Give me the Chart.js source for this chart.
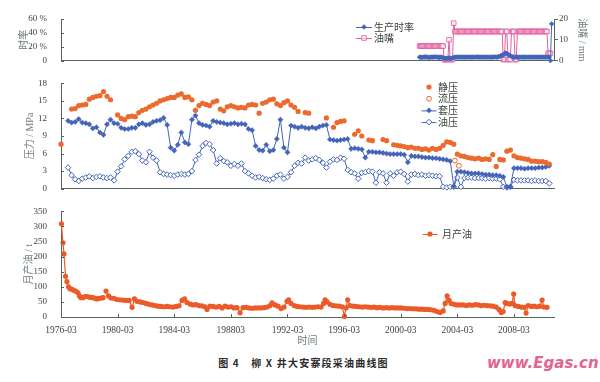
<!DOCTYPE html>
<html lang="zh">
<head>
<meta charset="utf-8">
<title>柳X井大安寨段采油曲线图</title>
<script src="https://cdn.jsdelivr.net/npm/chart.js@4.4.1/dist/chart.umd.min.js"></script>
<style>
html,body{margin:0;padding:0;background:#fff;}
body{width:600px;height:382px;position:relative;overflow:hidden;}
canvas{position:absolute;left:0;}
#c1{top:0;} #c2{top:72px;} #c3{top:200px;}
#caption{position:absolute;left:0;width:607px;top:356px;text-align:center;font:bold 10px "Noto Sans CJK SC",sans-serif;color:#2b2b2b;letter-spacing:1.2px;line-height:14px;}
#mark{position:absolute;left:487px;top:354px;font:italic bold 15px "DejaVu Sans",sans-serif;color:#e4638f;line-height:18px;}
</style>
</head>
<body>
<canvas id="c1" width="600" height="72"></canvas>
<canvas id="c2" width="600" height="128"></canvas>
<canvas id="c3" width="600" height="150"></canvas>
<div id="caption">图 4　柳 X 井大安寨段采油曲线图</div>
<div id="mark">www.Egas.cn</div>
<script>
// ---------- time axis ----------
const X_MIN = 1976.17, X_MAX = 2011.0;
const tickYears  = [1976.17,1980.17,1984.17,1988.17,1992.17,1996.17,2000.17,2004.17,2008.17];
const tickLabels = ['1976-03','1980-03','1984-03','198803','1992-03','1996-03','2000-03','2004-03','2008-03'];

// ---------- top panel (monthly from 2001.5) ----------
const topStart = 2001.5, topStep = 1/12;
const rateValues = [
 5,5,4.5,5,5,5.5,5,5,4.5,5,5,5,5,5.5,5,5,5,4.5,5,5,4,
 3,3,3.5,3,4,3,3,3.5,
 4.5,5,5,5,5,5,5,5,5,5, 5,5,5,5,5,5,5,5,5,5, 5.5,5,5,5,5,5,5,5,5,5, 5,5,5,5,5,5.5,5,5,6,6, 7,8,
 8,10,11,10,9,8,7,6,5.5,
 5,5,5,5,5,5,5,5,5,5, 5,5,5,5,5,5,5,5,5,5, 5,5,5,5,5,5,5,5,5,5, 5,
 0,53];
const nozzleValues = [
 7,7,7,7,7,7,7,7,7,7,7,7,7,7,7,7,7,7,7,7,7,
 0.5,0.5,0.5,0.5, 10, 0.5,0.5,0.5, 18,
 14,14,14,14,14,14,14,14,14,14, 14,14,14,14,14,14,14,14,14,14, 14,14,14,14,14,14,14,14,14,14, 14,14,14,14,14,14,14,14,14,14, 14,
 0.5,0.5, 14,14, 0.5,0.5,0.5, 14,14,14, 0.5,0.5,
 14,14,14,14,14,14,14,14,14,14, 14,14,14,14,14,14,14,14,14,14, 14,14,14,14,14,14,
 3.5,3.5,3.5];

// ---------- pressure panel (quarterly from 1976.17) ----------
const pStart = 1976.17, pStep = 0.25;
const staticValues = [
 7.6,null,null,13.6,13.7,14.2,14.3,14.4,15.3,15.6,
 15.8,15.9,16.6,15.8,15.2,null,12.6,12.0,11.8,12.3,
 12.4,12.3,13.0,13.4,13.6,14.0,14.3,14.6,15.0,15.2,
 15.4,15.6,15.6,16.0,16.2,15.6,15.7,15.2,13.4,14.2,
 14.6,14.4,14.2,14.8,15.0,13.6,13.3,14.0,14.2,14.0,
 13.8,13.9,13.8,14.3,14.4,14.3,12.9,14.6,14.8,15.2,
 15.3,14.5,14.2,14.7,15.0,14.3,13.9,13.2,null,13.0,
 12.9,null,null,null,null,12.1,null,10.5,11.3,11.5,
 11.6,null,null,9.3,9.9,9.0,null,8.3,8.2,null,
 null,8.4,8.2,null,7.5,7.4,7.3,7.2,7.0,7.1,
 6.9,6.9,6.7,6.8,6.6,6.9,6.7,6.9,7.4,8.0,
 7.9,7.6,5.9,5.6,5.5,5.3,5.2,5.1,5.2,5.0,
 5.1,5.0,5.8,3.8,5.0,4.9,6.4,6.6,5.6,5.3,
 5.2,5.1,5.0,4.7,4.7,4.6,4.6,4.5,4.2];
const flowYears  = [2004.0, 2004.28];
const flowValues = [4.8, 3.9];
const casingValues = [
 null,null,11.6,11.3,11.4,11.9,11.3,11.2,11.0,10.3,
 10.5,9.6,9.2,11.0,11.8,11.2,11.1,10.4,10.2,10.2,
 10.4,10.4,11.0,11.2,10.9,11.0,11.4,11.6,11.7,12.1,
 10.9,7.0,6.5,7.5,9.6,7.9,7.6,11.8,12.5,11.2,
 10.9,10.8,10.6,11.6,11.4,11.3,11.2,11.0,11.1,11.2,
 11.0,11.1,11.0,10.2,10.0,7.3,6.6,6.5,7.5,6.4,
 6.6,8.5,11.8,7.0,6.2,10.8,10.6,10.4,10.6,10.4,
 10.3,10.5,10.3,10.6,10.8,10.9,8.4,8.3,8.2,8.3,
 8.4,8.5,6.8,6.9,6.8,6.7,5.3,6.3,6.3,6.2,
 6.2,6.1,6.0,5.9,5.9,5.9,5.9,5.8,4.5,5.6,
 5.5,5.5,5.4,5.3,5.3,5.2,5.2,5.1,5.0,4.9,
 4.7,0.4,2.9,2.9,2.8,2.7,2.6,2.6,2.6,2.5,
 2.4,2.4,2.3,2.3,2.2,2.0,0.3,0.3,3.5,3.5,
 3.5,3.4,3.5,3.5,3.5,3.6,3.6,3.7,3.9];
const tubingValues = [
 null,null,3.6,2.3,1.6,1.3,1.7,1.9,2.1,1.8,
 2.0,2.1,1.9,1.8,1.9,1.4,2.9,3.8,5.0,5.6,
 6.3,6.4,5.9,4.8,4.5,6.3,5.3,4.8,2.8,2.5,
 2.4,2.3,2.2,2.4,2.5,2.4,2.5,3.0,4.9,5.8,
 7.3,7.8,7.6,6.6,4.3,5.2,4.7,4.5,3.9,4.2,
 3.9,4.3,3.0,2.6,2.2,1.9,2.0,1.8,1.6,1.5,
 1.7,2.2,2.4,1.7,2.0,2.8,3.9,4.4,4.3,5.3,
 4.8,5.0,5.2,4.9,4.4,3.6,4.6,5.0,4.9,5.3,
 5.1,3.2,2.8,2.6,1.7,2.7,2.8,3.0,2.9,1.0,
 2.8,2.6,1.0,2.6,2.2,2.8,2.9,2.5,1.2,2.4,
 2.5,2.3,2.4,2.2,2.3,2.2,2.1,2.1,0.3,0.2,
 0.3,0.3,1.9,0.3,1.8,1.9,1.9,1.8,1.8,1.8,
 1.7,1.8,1.7,1.7,1.6,0.3,0.2,0.3,1.5,1.4,
 1.4,1.4,1.4,1.3,1.4,1.3,1.3,1.3,0.9];

// ---------- monthly oil ----------
const oilYears = [
 1976.20,1976.31,1976.38,1976.49,1976.59,1976.70,1976.81,1976.95,1977.09,1977.23,
 1977.37,1977.48,1977.58,1977.72,1977.87,1978.01,1978.15,1978.29,1978.43,1978.57,
 1978.71,1978.86,1979.00,1979.14,1979.25,1979.35,1979.53,1979.70,1979.92,1980.13,
 1980.34,1980.55,1980.76,1980.98,1981.19,1981.36,1981.54,1981.75,1981.97,1982.18,
 1982.39,1982.60,1982.81,1983.03,1983.24,1983.45,1983.66,1983.87,1984.09,1984.30,
 1984.51,1984.72,1984.90,1985.07,1985.29,1985.50,1985.71,1985.92,1986.13,1986.35,
 1986.49,1986.70,1986.91,1987.12,1987.34,1987.55,1987.76,1987.97,1988.18,1988.40,
 1988.61,1988.82,1989.03,1989.24,1989.46,1989.67,1989.88,1990.09,1990.30,1990.52,
 1990.73,1990.94,1991.08,1991.29,1991.50,1991.72,1991.93,1992.14,1992.25,1992.42,
 1992.64,1992.85,1993.06,1993.27,1993.48,1993.70,1993.91,1994.12,1994.33,1994.54,
 1994.72,1994.83,1994.97,1995.18,1995.39,1995.60,1995.82,1996.03,1996.20,1996.31,
 1996.42,1996.59,1996.81,1997.02,1997.23,1997.44,1997.65,1997.87,1998.08,1998.29,
 1998.50,1998.71,1998.93,1999.14,1999.35,1999.56,1999.77,1999.99,2000.20,2000.41,
 2000.62,2000.83,2001.05,2001.26,2001.47,2001.68,2001.89,2002.11,2002.32,2002.53,
 2002.74,2002.95,2003.17,2003.31,2003.45,2003.59,2003.73,2003.94,2004.15,2004.37,
 2004.58,2004.79,2005.00,2005.21,2005.43,2005.64,2005.85,2006.06,2006.28,2006.49,
 2006.70,2006.91,2007.12,2007.27,2007.41,2007.55,2007.69,2007.90,2008.04,2008.15,
 2008.25,2008.47,2008.68,2008.89,2009.03,2009.17,2009.39,2009.60,2009.81,2010.02,
 2010.16,2010.30,2010.51];
const oilValues = [
 309,246,209,135,117,100,94,92,88,85,
 80,70,64,64,68,68,66,65,64,62,
 60,62,63,64,null,86,70,63,62,58,
 57,56,55,55,32,60,52,50,48,45,
 42,40,38,36,35,34,35,34,33,35,
 37,55,60,48,43,40,41,38,37,34,
 25,36,35,33,35,30,36,33,34,30,
 31,14,31,32,30,29,30,30,30,31,
 33,38,47,40,36,28,33,52,57,45,
 38,35,34,33,32,33,32,33,34,33,
 45,57,50,42,38,37,36,34,2,30,
 57,38,36,35,34,33,34,33,32,33,
 31,32,30,31,30,31,30,30,30,29,
 28,28,27,27,26,26,25,25,24,22,
 18,15,20,45,70,55,45,42,40,40,
 40,38,40,39,41,40,38,39,38,37,
 36,33,25,15,18,48,45,43,45,76,
 38,35,33,32,13,38,35,36,34,36,
 56,33,32];

// ---------- styles ----------
const AX = '#56655a', TXT = '#3a423a', TTL = '#6f7d70';
const ORANGE = '#ec6a2e', OIL = '#eb5a28', BLUE = '#4364b8', PINK = '#e35fa0';
const SERIF = '"Liberation Serif","Noto Sans CJK SC",serif';
const CJK = '"Noto Sans CJK SC","Liberation Serif",sans-serif';
Chart.defaults.font.family = SERIF;
Chart.defaults.font.size = 9;
Chart.defaults.color = TXT;

const gridSeries = (start, step, vals) => vals.map((v, i) => ({x: start + i * step, y: v}));
const pairSeries = (xs, ys) => xs.map((x, i) => ({x: x, y: ys[i]}));

function drawMarker(ctx, style, x, y, r, fill, stroke, lw) {
  ctx.beginPath();
  if (style === 'rectRot') { ctx.moveTo(x, y - r); ctx.lineTo(x + r, y); ctx.lineTo(x, y + r); ctx.lineTo(x - r, y); ctx.closePath(); }
  else if (style === 'rect') { const h = r * Math.SQRT1_2; ctx.rect(x - h, y - h, 2 * h, 2 * h); }
  else { ctx.arc(x, y, r, 0, Math.PI * 2); }
  if (fill) { ctx.fillStyle = fill; ctx.fill(); }
  if (lw > 0) { ctx.lineWidth = lw; ctx.strokeStyle = stroke; ctx.stroke(); }
}

const miniLegend = {
  id: 'miniLegend',
  afterDraw(chart, args, o) {
    if (!o || o.x === undefined) return;
    const ctx = chart.ctx;
    chart.data.datasets.forEach((ds, k) => {
      const y = o.y + k * o.dy, x = o.x;
      ctx.save();
      if (ds.showLine !== false) {
        ctx.strokeStyle = ds.borderColor; ctx.lineWidth = 1;
        ctx.beginPath(); ctx.moveTo(x - o.half, y + 0.5); ctx.lineTo(x + o.half, y + 0.5); ctx.stroke();
      }
      drawMarker(ctx, ds.pointStyle, x, y, ds.pointRadius, ds.pointBackgroundColor, ds.pointBorderColor, ds.pointBorderWidth);
      ctx.fillStyle = TXT; ctx.font = '10px ' + CJK; ctx.textBaseline = 'middle'; ctx.textAlign = 'left';
      ctx.fillText(ds.label, x + o.tx, y);
      ctx.restore();
    });
  }
};

const inTicks = {
  id: 'inTicks',
  afterDraw(chart, args, o) {
    const ctx = chart.ctx;
    ctx.save(); ctx.strokeStyle = AX; ctx.lineWidth = 1;
    (o.axes || []).forEach(id => {
      const s = chart.scales[id]; if (!s) return;
      s.ticks.forEach(t => {
        const p = Math.round(s.getPixelForValue(t.value)) + 0.5;
        ctx.beginPath();
        if (s.isHorizontal()) { ctx.moveTo(p, s.top); ctx.lineTo(p, s.top - 3); }
        else { ctx.moveTo(s.right, p); ctx.lineTo(s.right + 3, p); }
        ctx.stroke();
      });
    });
    ctx.restore();
  }
};

function xScale(showLabels, h, title) {
  return {
    type: 'linear', min: X_MIN, max: X_MAX,
    afterBuildTicks: s => { s.ticks = tickYears.map(v => ({value: v})); },
    ticks: {display: showLabels, autoSkip: false, maxRotation: 0, padding: 0, color: TXT,
            font: {family: SERIF, size: 9.5},
            callback: v => tickLabels[tickYears.indexOf(v)]},
    grid: {display: false},
    border: {display: true, color: AX, width: 1},
    title: title ? {display: true, text: title, color: TTL, font: {family: SERIF, size: 10}, padding: {top: 0, bottom: 3}} : {display: false},
    afterFit: s => { s.height = h; }
  };
}
function yLeft(min, max, step, title, tpad, cb) {
  return {
    position: 'left', min: min, max: max,
    ticks: {stepSize: step, padding: 6, color: TXT, font: {family: SERIF, size: 9}, callback: cb},
    grid: {display: false},
    border: {display: true, color: AX, width: 1},
    title: {display: true, text: title, color: TTL, font: {family: SERIF, size: 10}, padding: {top: tpad, bottom: 0}},
    afterFit: s => { s.width = 61; }
  };
}
const common = {responsive: false, animation: false, events: []};

// ---------- chart 1: 时率 / 油嘴 ----------
new Chart(document.getElementById('c1'), {
  type: 'line',
  data: {datasets: [
    {label: '生产时率', data: gridSeries(topStart, topStep, rateValues), yAxisID: 'y',
     borderColor: BLUE, borderWidth: 1, pointStyle: 'rectRot', pointRadius: 2.4,
     pointBackgroundColor: BLUE, pointBorderColor: BLUE, pointBorderWidth: 0.5, clip: 6},
    {label: '油嘴', data: gridSeries(topStart, topStep, nozzleValues), yAxisID: 'y1',
     borderColor: PINK, borderWidth: 1, pointStyle: 'rect', pointRadius: 3.2,
     pointBackgroundColor: 'rgba(255,255,255,0.6)', pointBorderColor: PINK, pointBorderWidth: 0.9, clip: 6}
  ]},
  options: Object.assign({}, common, {
    layout: {padding: {top: 19, right: 0, bottom: 0, left: 0}},
    plugins: {legend: {display: false}, tooltip: {enabled: false},
              miniLegend: {x: 364, y: 27, dy: 11, half: 8, tx: 10}, inTicks: {axes: ['y']}},
    scales: {
      x: xScale(false, 8),
      y: yLeft(0, 60, 20, '时率', 18, v => v === 0 ? '0' : v + ' %'),
      y1: {position: 'right', min: 0, max: 20,
           ticks: {stepSize: 10, padding: 1, color: TXT, font: {family: SERIF, size: 9}},
           grid: {display: true, drawOnChartArea: false, drawTicks: true, tickLength: 4, color: AX},
           border: {display: true, color: AX, width: 1},
           title: {display: true, text: '油嘴 / mm', color: TTL, font: {family: SERIF, size: 10}, padding: {top: 12, bottom: 0}},
           afterFit: s => { s.width = 46; }}
    }
  }),
  plugins: [miniLegend, inTicks]
});

// ---------- chart 2: 压力 ----------
new Chart(document.getElementById('c2'), {
  type: 'line',
  data: {datasets: [
    {label: '静压', data: gridSeries(pStart, pStep, staticValues), showLine: false,
     borderColor: ORANGE, pointStyle: 'circle', pointRadius: 2.6,
     pointBackgroundColor: ORANGE, pointBorderColor: ORANGE, pointBorderWidth: 0, clip: 6},
    {label: '流压', data: pairSeries(flowYears, flowValues), showLine: false,
     borderColor: ORANGE, pointStyle: 'circle', pointRadius: 2.4,
     pointBackgroundColor: '#ffffff', pointBorderColor: ORANGE, pointBorderWidth: 1, clip: 6},
    {label: '套压', data: gridSeries(pStart, pStep, casingValues),
     borderColor: BLUE, borderWidth: 1, pointStyle: 'rectRot', pointRadius: 2.6,
     pointBackgroundColor: BLUE, pointBorderColor: BLUE, pointBorderWidth: 0.5, clip: 6},
    {label: '油压', data: gridSeries(pStart, pStep, tubingValues),
     borderColor: BLUE, borderWidth: 1, pointStyle: 'rectRot', pointRadius: 2.8,
     pointBackgroundColor: '#ffffff', pointBorderColor: BLUE, pointBorderWidth: 1, clip: 6}
  ]},
  options: Object.assign({}, common, {
    layout: {padding: {top: 9, right: 46, bottom: 0, left: 0}},
    plugins: {legend: {display: false}, tooltip: {enabled: false},
              miniLegend: {x: 429, y: 15, dy: 11.7, half: 7.5, tx: 9}, inTicks: {axes: ['y']}},
    scales: {
      x: xScale(false, 8),
      y: yLeft(0, 18, 3, '压力 / MPa', 24)
    }
  }),
  plugins: [miniLegend, inTicks]
});

// ---------- chart 3: 月产油 ----------
new Chart(document.getElementById('c3'), {
  type: 'line',
  data: {datasets: [
    {label: '月产油', data: pairSeries(oilYears, oilValues),
     borderColor: OIL, borderWidth: 1.2, pointStyle: 'circle', pointRadius: 2.6,
     pointBackgroundColor: OIL, pointBorderColor: OIL, pointBorderWidth: 0, clip: 6}
  ]},
  options: Object.assign({}, common, {
    layout: {padding: {top: 9, right: 46, bottom: 0, left: 0}},
    plugins: {legend: {display: false}, tooltip: {enabled: false},
              miniLegend: {x: 430, y: 34, dy: 12, half: 7.5, tx: 12}, inTicks: {axes: ['x', 'y']}},
    scales: {
      x: xScale(true, 33, '时间'),
      y: yLeft(0, 350, 50, '月产油 / t', 23)
    }
  }),
  plugins: [miniLegend, inTicks]
});
</script>
</body>
</html>
